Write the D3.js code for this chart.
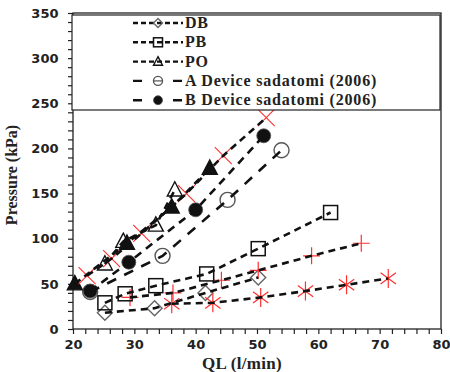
<!DOCTYPE html>
<html><head><meta charset="utf-8">
<script src="https://cdn.jsdelivr.net/npm/d3@7"></script>
<style>
body{margin:0;background:#fff;}
svg{display:block;}
.tick text{font-family:"DejaVu Sans",sans-serif;font-weight:bold;font-size:13px;fill:#222;}
</style></head><body>
<script>
// ---- data ----
const xTicks = [20, 30, 40, 50, 60, 70, 80];
const yTicks = [0, 50, 100, 150, 200, 250, 300, 350];

const dbX = [25.2, 33.3, 41.6, 50.2];
const dbY = [18, 23, 40, 57];
const pbX = [25.2, 28.5, 33.5, 41.8, 50.2, 62.0];
const pbY = [29, 39, 48, 61, 89, 129];
const poX = [25.2, 28.2, 33.5, 36.6];
const poY = [72, 97, 115, 154];
const aX = [22.8, 34.6, 45.2, 54.0];
const aY = [41, 81, 143, 198];
const bX = [22.8, 29.1, 40.0, 51.1];
const bY = [42, 74, 132, 214];
const triX = [20.3, 28.8, 36.1, 42.3];
const triY = [50, 95, 135, 178];
const crossX = [22.3, 26.3, 31.2, 38.5, 44.5, 51.5];
const crossY = [59, 78, 106, 150, 192, 234];
const plusX = [29.3, 36.3, 44.2, 50.2, 58.9, 67.0];
const plusY = [35, 40, 54, 65, 81, 95];
const starX = [36.1, 42.8, 50.6, 57.9, 64.6, 71.4];
const starY = [28, 29, 35, 42, 49, 56];

const legendLabels = ["DB", "PB", "PO", "A Device sadatomi (2006)", "B Device sadatomi (2006)"];

// ---- layout ----
const W = 450, H = 372;
const m = {left: 73, right: 9, top: 13, bottom: 43};
const svg = d3.select("body").append("svg").attr("width", W).attr("height", H);
const x = d3.scaleLinear().domain([20, 80]).range([m.left, W - m.right]);
const y = d3.scaleLinear().domain([0, 350]).range([H - m.bottom, m.top]);

const zip = (xs, ys) => xs.map((v, i) => [v, ys[i]]);
const RED = "#ff3030";

// axes
const gx = svg.append("g").attr("transform", `translate(0,${H - m.bottom})`)
  .call(d3.axisBottom(x).tickValues(d3.range(20, 80.01, 2)).tickSize(5)
    .tickFormat(d => xTicks.includes(d) ? d : ""));
const gy = svg.append("g").attr("transform", `translate(${m.left},0)`)
  .call(d3.axisLeft(y).tickValues(d3.range(0, 350.01, 10)).tickSize(5)
    .tickFormat(d => yTicks.includes(d) ? d : ""));
[gx, gy].forEach(g => { g.select(".domain").remove(); g.selectAll("line").attr("stroke", "#222").attr("stroke-width", 1.2); });
gx.selectAll("text").attr("dy", "0.95em");
gy.selectAll("text").attr("dx", "-0.5em");

// frame
svg.append("rect").attr("x", m.left).attr("y", m.top)
  .attr("width", W - m.right - m.left).attr("height", H - m.bottom - m.top)
  .attr("fill", "none").attr("stroke", "#222").attr("stroke-width", 1.3);

// titles
svg.append("text").attr("x", 242).attr("y", 369)
  .attr("text-anchor", "middle").attr("font-family", "Liberation Serif, serif")
  .attr("font-weight", "bold").attr("font-size", 17).attr("letter-spacing", 0.3).attr("fill", "#222").text("QL (l/min)");
svg.append("text").attr("transform", `translate(17,${(m.top + H - m.bottom) / 2 + 4}) rotate(-90)`)
  .attr("text-anchor", "middle").attr("font-family", "Liberation Serif, serif")
  .attr("font-weight", "bold").attr("font-size", 16).attr("fill", "#222").text("Pressure (kPa)");

// lines
const line = d3.line().x(d => x(d[0])).y(d => y(d[1]));
const plot = svg.append("g");
const series = [
  {xs: crossX, ys: crossY, dash: "7,5"},
  {xs: triX, ys: triY, dash: "7,5"},
  {xs: poX, ys: poY, dash: "7,5"},
  {xs: bX, ys: bY, dash: "8,6"},
  {xs: aX, ys: aY, dash: "10,9"},
  {xs: pbX, ys: pbY, dash: "7,5"},
  {xs: plusX, ys: plusY, dash: "7,5"},
  {xs: dbX, ys: dbY, dash: "7,5"},
  {xs: starX, ys: starY, dash: "7,5"}
];

// markers
function drawMarker(g, type, cx, cy, s) {
  const h = s / 2;
  if (type === "diamond") {
    g.append("path").attr("d", `M${cx},${cy - h}L${cx + h},${cy}L${cx},${cy + h}L${cx - h},${cy}Z`)
      .attr("fill", "none").attr("stroke", "#666").attr("stroke-width", 1.4);
  } else if (type === "square") {
    g.append("rect").attr("x", cx - h).attr("y", cy - h).attr("width", s).attr("height", s)
      .attr("fill", "none").attr("stroke", "#111").attr("stroke-width", 1.5);
  } else if (type === "triOpen" || type === "triFilled") {
    g.append("path").attr("d", `M${cx},${cy - h * 1.1}L${cx + h},${cy + h * 0.8}L${cx - h},${cy + h * 0.8}Z`)
      .attr("fill", type === "triFilled" ? "#111" : "none").attr("stroke", "#111").attr("stroke-width", 1.4);
  } else if (type === "circOpen") {
    g.append("circle").attr("cx", cx).attr("cy", cy).attr("r", h)
      .attr("fill", "none").attr("stroke", "#555").attr("stroke-width", 1.4);
  } else if (type === "circFilled") {
    g.append("circle").attr("cx", cx).attr("cy", cy).attr("r", h)
      .attr("fill", "#111").attr("stroke", "#555").attr("stroke-width", 0.8);
  } else if (type === "cross") {
    g.append("path").attr("d", `M${cx - h},${cy - h}L${cx + h},${cy + h}M${cx - h},${cy + h}L${cx + h},${cy - h}`)
      .attr("stroke", RED).attr("stroke-width", 1.1).attr("fill", "none");
  } else if (type === "plus") {
    g.append("path").attr("d", `M${cx - h},${cy}L${cx + h},${cy}M${cx},${cy - h}L${cx},${cy + h}`)
      .attr("stroke", RED).attr("stroke-width", 1.2).attr("fill", "none");
  } else if (type === "star") {
    const a = h * Math.cos(Math.PI / 5), b = h * Math.sin(Math.PI / 5);
    g.append("path").attr("d", `M${cx},${cy - h}L${cx},${cy + h}M${cx - a},${cy - b}L${cx + a},${cy + b}M${cx - a},${cy + b}L${cx + a},${cy - b}`)
      .attr("stroke", RED).attr("stroke-width", 1.2).attr("fill", "none");
  }
}

const markerSets = [
  {xs: dbX, ys: dbY, type: "diamond", s: 15},
  {xs: starX, ys: starY, type: "star", s: 19},
  {xs: plusX, ys: plusY, type: "plus", s: 17},
  {xs: pbX, ys: pbY, type: "square", s: 14},
  {xs: aX, ys: aY, type: "circOpen", s: 15},
  {xs: bX, ys: bY, type: "circFilled", s: 14},
  {xs: poX, ys: poY, type: "triOpen", s: 15},
  {xs: triX, ys: triY, type: "triFilled", s: 15},
  {xs: crossX, ys: crossY, type: "cross", s: 17}
];
markerSets.forEach(ms => {
  const g = plot.append("g");
  zip(ms.xs, ms.ys).forEach(p => drawMarker(g, ms.type, x(p[0]), y(p[1]), ms.s));
});
series.forEach(s => {
  plot.append("path").datum(zip(s.xs, s.ys)).attr("d", line)
    .attr("fill", "none").attr("stroke", "#111").attr("stroke-width", 2.6)
    .attr("stroke-dasharray", s.dash);
});

// legend
const lg = svg.append("g");
lg.append("rect").attr("x", 72).attr("y", 15).attr("width", 368).attr("height", 95)
  .attr("fill", "#fff").attr("stroke", "#222").attr("stroke-width", 1.2);
const legTypes = ["diamond", "square", "triOpen", "circOpen", "circFilled"];
legendLabels.forEach((lab, i) => {
  const ly = 23 + i * 19.3;
  const dash = i < 3 ? "5,3" : "9,31";
  lg.append("line").attr("x1", 133).attr("x2", 183).attr("y1", ly).attr("y2", ly)
    .attr("stroke", "#111").attr("stroke-width", 2.4).attr("stroke-dasharray", dash);
  drawMarker(lg, legTypes[i], 158, ly, 9);
  if (i === 3) lg.append("line").attr("x1", 153.5).attr("x2", 162.5).attr("y1", ly).attr("y2", ly).attr("stroke", "#555").attr("stroke-width", 1.2);
  lg.append("text").attr("x", 185).attr("y", ly + 5).attr("font-family", "Liberation Serif, serif")
    .attr("font-weight", "bold").attr("font-size", 16).attr("letter-spacing", 0.8).attr("fill", "#222").text(lab);
});
</script>
</body></html>
